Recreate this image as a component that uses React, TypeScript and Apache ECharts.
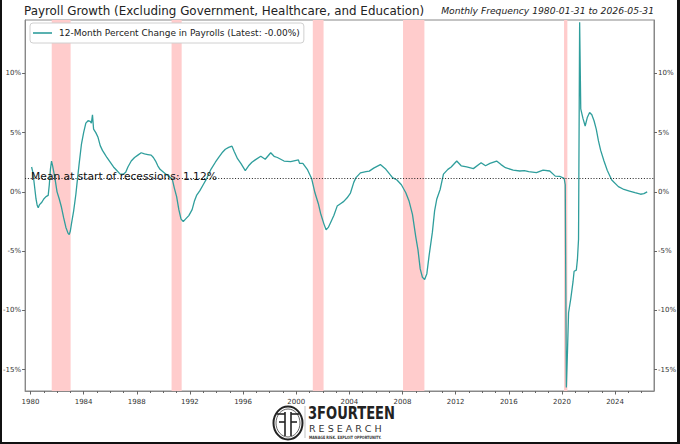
import React, { useEffect, useRef } from "react";
import * as echarts from "echarts";

const TITLE = "Payroll Growth (Excluding Government, Healthcare, and Education)";
const SUBTITLE = "Monthly Frequency 1980-01-31 to 2026-05-31";
const SERIES_NAME = "12-Month Percent Change in Payrolls (Latest: -0.00%)";
const MEAN_VALUE = 1.12;
const MEAN_LABEL = "Mean at start of recessions: 1.12%";

const MONTHS = [
  "1980-01", "1980-02", "1980-03", "1980-04", "1980-05", "1980-06", "1980-07", "1980-08", "1980-10", "1980-12",
  "1981-02", "1981-04", "1981-05", "1981-06", "1981-07", "1981-08", "1981-10", "1981-12",
  "1982-02", "1982-04", "1982-06", "1982-08", "1982-10", "1982-11", "1982-12",
  "1983-01", "1983-03", "1983-05", "1983-06", "1983-08", "1983-10", "1983-12",
  "1984-02", "1984-04", "1984-06", "1984-07", "1984-08", "1984-09", "1984-11",
  "1985-01", "1985-03", "1985-05", "1985-07", "1985-09", "1985-12",
  "1986-03", "1986-06", "1986-09", "1986-12",
  "1987-02", "1987-04", "1987-07", "1987-10",
  "1988-01", "1988-04", "1988-07", "1988-10",
  "1989-01", "1989-03", "1989-05", "1989-07", "1989-09",
  "1990-01", "1990-05", "1990-08", "1990-10", "1990-12",
  "1991-02", "1991-04", "1991-06", "1991-08", "1991-11",
  "1992-02", "1992-04", "1992-06", "1992-09", "1992-12",
  "1993-03", "1993-07", "1993-11",
  "1994-02", "1994-05", "1994-08", "1994-11",
  "1995-02", "1995-04", "1995-07", "1995-10",
  "1996-02", "1996-05", "1996-08", "1996-11",
  "1997-04", "1997-08",
  "1998-01", "1998-04", "1998-07",
  "1999-01", "1999-07",
  "2000-02", "2000-03", "2000-06", "2000-10",
  "2001-02", "2001-05", "2001-08", "2001-10",
  "2002-01", "2002-03", "2002-05", "2002-07", "2002-10",
  "2003-01", "2003-04", "2003-07", "2003-10",
  "2004-01", "2004-04", "2004-06", "2004-10",
  "2005-03", "2005-06", "2005-10",
  "2006-04", "2006-09",
  "2007-03", "2007-07", "2007-11",
  "2008-03", "2008-06", "2008-09", "2008-12",
  "2009-02", "2009-04", "2009-06", "2009-08", "2009-10", "2009-12",
  "2010-03", "2010-05", "2010-07", "2010-10",
  "2011-01", "2011-05", "2011-08",
  "2012-01", "2012-05", "2012-10",
  "2013-04", "2013-11",
  "2014-03", "2014-07",
  "2015-01", "2015-05", "2015-09",
  "2016-04", "2016-10",
  "2017-02", "2017-06",
  "2018-01", "2018-07",
  "2019-01", "2019-06", "2019-10",
  "2020-02", "2020-03", "2020-04", "2020-05", "2020-06", "2020-08", "2020-10", "2020-11",
  "2021-01", "2021-02", "2021-03", "2021-04", "2021-05", "2021-07", "2021-09", "2021-11",
  "2022-01", "2022-03", "2022-05", "2022-07", "2022-09", "2022-11",
  "2023-02", "2023-05", "2023-09",
  "2024-03", "2024-08",
  "2025-01", "2025-06", "2025-11",
  "2026-02", "2026-05",
];

const VALUES = [
  2.1, 1.7, 1.0, 0.2, -0.6, -1.1, -1.35, -1.1, -0.9, -0.6,
  -0.4, -0.3, 0.6, 1.9, 2.6, 2.2, 1.2, 0.0,
  -0.6, -1.3, -2.2, -3.0, -3.5, -3.6, -3.3,
  -2.7, -1.6, -0.2, 0.7, 2.4, 4.0, 5.0,
  5.8, 6.0, 5.95, 5.8, 6.5, 5.3, 5.0,
  4.6, 3.9, 3.5, 3.2, 2.9, 2.5,
  2.1, 1.8, 1.5, 1.5,
  1.65, 2.1, 2.6, 2.9,
  3.1, 3.3, 3.2, 3.15,
  3.1, 2.9, 2.6, 2.2, 1.9,
  1.6, 1.3, 1.1, 0.3, -0.4,
  -1.5, -2.3, -2.5, -2.3, -2.0,
  -1.5, -0.8, -0.3, 0.1, 0.6,
  1.1, 1.9, 2.5,
  2.9, 3.3, 3.6, 3.75,
  3.85, 3.4, 2.8, 2.4,
  1.8, 2.2, 2.5, 2.7,
  3.0, 2.75,
  3.3, 3.0, 2.9,
  2.6, 2.55,
  2.7, 2.4, 2.4, 1.9,
  1.1, -0.1, -1.0, -1.8,
  -2.7, -3.2, -3.0, -2.6, -2.0,
  -1.2, -1.0, -0.8, -0.5,
  -0.1, 0.8, 1.2, 1.6,
  1.7, 1.75, 2.0,
  2.3, 1.9,
  1.2, 1.0, 0.6,
  -0.07, -0.8, -1.9, -3.8,
  -4.9, -6.5, -7.2, -7.4, -6.9, -5.4,
  -3.4, -1.6, -0.6, 0.2,
  1.5, 1.9, 2.1,
  2.6, 2.2, 2.1,
  1.96, 2.46,
  2.2, 2.4,
  2.6, 2.3, 2.04,
  1.84, 1.76,
  1.8, 1.7,
  1.62, 1.84,
  1.76, 1.33, 1.3,
  1.15, 0.6, -16.5, -13.5, -10.2, -9.0, -7.6, -6.7,
  -6.6, -5.7, -4.0, 14.3, 7.0, 6.2, 5.56, 6.3,
  6.69, 6.5, 6.0, 5.3, 4.3, 3.5,
  2.6, 1.8, 1.0,
  0.44, 0.2,
  0.07, -0.07, -0.2,
  -0.15, 0.0,
];

const RECESSION_STARTS = [1981.6, 1990.62, 2001.25, 2008.04, 2020.16];
const RECESSION_ENDS = [1983.02, 1991.38, 2002.06, 2009.65, 2020.41];

const X_LABEL_YEARS = [1980, 1984, 1988, 1992, 1996, 2000, 2004, 2008, 2012, 2016, 2020, 2024];
const Y_TICKS = [-15, -10, -5, 0, 5, 10];

const X_MIN = 1979.594;
const X_MAX = 2026.93;
const Y_MIN = -16.8;
const Y_MAX = 14.5;

const LINE_COLOR = "#2f9e9c";
const BAND_COLOR = "#ffcccc";
const FONT = "DejaVu Sans";

function toYear(m: string): number {
  const [y, mo] = m.split("-").map(Number);
  return y + mo / 12;
}

export default function App() {
  const ref = useRef<HTMLDivElement>(null);

  useEffect(() => {
    if (!ref.current) return;
    const chart = echarts.init(ref.current, null, { renderer: "svg" });
    const data = MONTHS.map((m, i) => [toYear(m), VALUES[i]]);
    const minorYears: number[] = [];
    for (let y = 1980; y <= 2026; y++) minorYears.push(y);

    const yAxisBase = (pos: "left" | "right") => ({
      type: "value",
      position: pos,
      min: Y_MIN,
      max: Y_MAX,
      axisLine: { show: true, onZero: false, lineStyle: { color: "#888", width: 1 } },
      axisTick: { show: true, customValues: Y_TICKS, length: 3, lineStyle: { color: "#666" } },
      axisLabel: {
        show: true,
        customValues: Y_TICKS,
        formatter: (v: number) => `${v}%`,
        fontSize: 7,
        color: "#333",
        fontFamily: FONT,
        margin: 4,
      },
      splitLine: { show: false },
    });

    const option: any = {
      animation: false,
      backgroundColor: "#ffffff",
      textStyle: { fontFamily: FONT },
      grid: {
        left: 24,
        right: 26,
        top: 20,
        bottom: 53,
        show: true,
        borderColor: "#888",
        borderWidth: 1,
        backgroundColor: "transparent",
      },
      legend: {
        data: [SERIES_NAME],
        left: 30,
        top: 23,
        orient: "horizontal",
        icon: "rect",
        itemWidth: 19,
        itemHeight: 1.6,
        padding: [5, 4, 5, 3],
        backgroundColor: "#ffffff",
        borderColor: "#d0d0d0",
        borderWidth: 1,
        borderRadius: 3,
        selectedMode: false,
        textStyle: { fontSize: 9, color: "#222", fontFamily: FONT, padding: [0, 0, 0, 2], lineHeight: 10 },
      },
      xAxis: [
        {
          type: "value",
          min: X_MIN,
          max: X_MAX,
          position: "bottom",
          axisLine: { show: true, onZero: false, lineStyle: { color: "#888", width: 1 } },
          axisTick: { show: true, customValues: X_LABEL_YEARS, length: 3.5, lineStyle: { color: "#666" } },
          axisLabel: {
            show: true,
            customValues: X_LABEL_YEARS,
            formatter: (v: number) => String(v),
            fontSize: 7,
            color: "#333",
            fontFamily: FONT,
            margin: 7,
          },
          splitLine: { show: false },
        },
        {
          type: "value",
          min: X_MIN,
          max: X_MAX,
          position: "bottom",
          axisLine: { show: false, onZero: false },
          axisTick: { show: true, customValues: minorYears, length: 2, lineStyle: { color: "#666" } },
          axisLabel: { show: false },
          splitLine: { show: false },
        },
      ],
      yAxis: [yAxisBase("left"), yAxisBase("right")],
      series: [
        {
          type: "line",
          name: "recessions",
          data: [],
          silent: true,
          z: 1,
          markArea: {
            silent: true,
            itemStyle: { color: BAND_COLOR },
            data: RECESSION_STARTS.map((s, i) => [{ xAxis: s }, { xAxis: RECESSION_ENDS[i] }]),
          },
        },
        {
          type: "line",
          name: SERIES_NAME,
          data,
          showSymbol: false,
          symbol: "none",
          z: 3,
          lineStyle: { color: LINE_COLOR, width: 1.3 },
          itemStyle: { color: LINE_COLOR },
          emphasis: { disabled: true },
          markLine: {
            silent: true,
            symbol: ["none", "none"],
            data: [{ yAxis: MEAN_VALUE }],
            lineStyle: { color: "#222", type: [1, 1.8], width: 1 },
            label: {
              show: true,
              position: "insideStartTop",
              formatter: MEAN_LABEL,
              fontSize: 10.7,
              color: "#111",
              fontFamily: FONT,
              distance: [6, -3],
            },
            emphasis: { disabled: true },
          },
        },
      ],
      graphic: [
        {
          type: "text",
          left: 24,
          top: 5,
          style: { text: TITLE, fontSize: 11.9, fontFamily: FONT, fill: "#222" },
        },
        {
          type: "text",
          right: 26,
          top: 6,
          style: { text: SUBTITLE, fontSize: 9.2, fontStyle: "italic", fontFamily: FONT, fill: "#222" },
        },
        // logo
        { type: "ellipse", shape: { cx: 288, cy: 423, rx: 14.5, ry: 16.5 }, style: { fill: "none", stroke: "#222", lineWidth: 2 } },
        { type: "ellipse", shape: { cx: 288, cy: 423, rx: 12, ry: 14 }, style: { fill: "none", stroke: "#222", lineWidth: 0.7 } },
        { type: "line", shape: { x1: 285, y1: 412, x2: 285, y2: 436 }, style: { stroke: "#222", lineWidth: 1.6 } },
        { type: "line", shape: { x1: 291, y1: 412, x2: 291, y2: 436 }, style: { stroke: "#222", lineWidth: 1.6 } },
        { type: "line", shape: { x1: 277, y1: 414, x2: 285, y2: 414 }, style: { stroke: "#222", lineWidth: 1.6 } },
        { type: "line", shape: { x1: 291, y1: 414, x2: 299, y2: 414 }, style: { stroke: "#222", lineWidth: 1.6 } },
        { type: "line", shape: { x1: 279, y1: 422, x2: 285, y2: 422 }, style: { stroke: "#222", lineWidth: 1.6 } },
        { type: "line", shape: { x1: 291, y1: 422, x2: 297, y2: 422 }, style: { stroke: "#222", lineWidth: 1.6 } },
        { type: "line", shape: { x1: 305, y1: 406, x2: 305, y2: 438 }, style: { stroke: "#999", lineWidth: 0.6 } },
        {
          type: "text",
          x: 308,
          y: 405,
          scaleX: 0.77,
          style: { text: "3FOURTEEN", fontSize: 17, fontWeight: "bold", fontFamily: FONT, fill: "#222" },
        },
        {
          type: "text",
          x: 309,
          y: 423,
          style: { text: "R E S E A R C H", fontSize: 9.5, fontFamily: FONT, fill: "#333", letterSpacing: 0.6 },
        },
        {
          type: "text",
          x: 309,
          y: 435,
          scaleX: 0.74,
          style: { text: "MANAGE RISK. EXPLOIT OPPORTUNITY.", fontSize: 4.5, fontWeight: "bold", fontFamily: FONT, fill: "#333" },
        },
        // frame
        { type: "rect", shape: { x: 0, y: 0, width: 2, height: 444 }, style: { fill: "#111" } },
        { type: "rect", shape: { x: 677, y: 0, width: 3, height: 444 }, style: { fill: "#111" } },
        { type: "rect", shape: { x: 0, y: 442, width: 680, height: 2 }, style: { fill: "#111" } },
      ],
    };
    chart.setOption(option);
    return () => chart.dispose();
  }, []);

  return (
    <div
      ref={ref}
      style={{ position: "fixed", left: 0, top: 0, width: 680, height: 444, background: "#fff" }}
    />
  );
}
